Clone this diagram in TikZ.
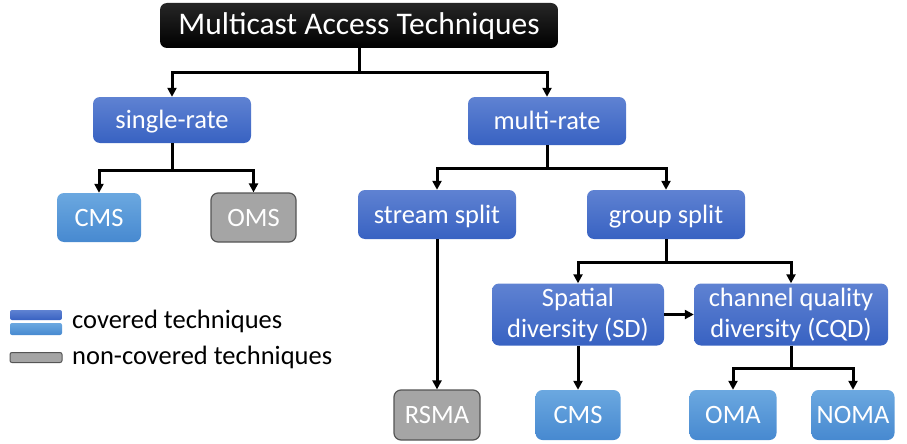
\documentclass[tikz,border=0pt]{standalone}
\usepackage{fontspec}
\setmainfont{Carlito}
\usetikzlibrary{arrows.meta,calc}
\definecolor{dbtop}{HTML}{5F82D2}
\definecolor{dbbot}{HTML}{3862C2}
\definecolor{lbtop}{HTML}{6BA8E0}
\definecolor{lbbot}{HTML}{4789D0}
\definecolor{gfill}{HTML}{A5A5A5}
\definecolor{gline}{HTML}{555555}
\tikzset{
  base/.style={rounded corners=7pt, align=center, text=white, inner sep=0pt,
    font=\fontsize{26.5}{31}\selectfont},
  sl/.style={text height=19pt, text depth=2pt},
  dbox/.style={base, top color=dbtop, bottom color=dbbot, draw=none},
  lbox/.style={base, top color=lbtop, bottom color=lbbot, draw=none},
  gbox/.style={base, fill=gfill, draw=gline, line width=1.2pt},
  tbox/.style={base, top color=black!85, bottom color=black, draw=none,
    font=\fontsize{31.5}{34}\selectfont, text height=22pt, text depth=3pt},
  conn/.style={line width=3pt, draw=black},
  arr/.style={conn, -{Triangle[length=9pt,width=9pt]}},
  legtext/.style={anchor=west, inner sep=0pt, font=\fontsize{26.5}{30}\selectfont}
}
\begin{document}
\begin{tikzpicture}[x=1pt,y=-1pt]
\useasboundingbox (0,0) rectangle (907,444);
% nodes
\node[tbox, minimum width=398pt, minimum height=45pt] (title) at (359,25.5) {Multicast Access Techniques};
\node[dbox, sl, minimum width=158pt, minimum height=46pt] (single) at (172,120) {single-rate};
\node[dbox, sl, minimum width=158pt, minimum height=48pt] (multi) at (547,121) {multi-rate};
\node[lbox, sl, minimum width=84pt, minimum height=49pt] (cmsa) at (99,217.5) {CMS};
\node[gbox, sl, minimum width=85pt, minimum height=49pt] (oms) at (253.5,217.5) {OMS};
\node[dbox, sl, minimum width=158pt, minimum height=49pt] (stream) at (437,214.5) {stream split};
\node[dbox, sl, minimum width=158pt, minimum height=49pt] (group) at (666,214.5) {group split};
\node[dbox, minimum width=172pt, minimum height=62pt] (sd) at (578,314.5) {Spatial\\diversity (SD)};
\node[dbox, minimum width=194pt, minimum height=62pt] (cqd) at (791,314.5) {channel quality\\diversity (CQD)};
\node[gbox, sl, minimum width=86pt, minimum height=50pt] (rsma) at (437,415) {RSMA};
\node[lbox, sl, minimum width=85pt, minimum height=50pt] (cmsb) at (578,415) {CMS};
\node[lbox, sl, minimum width=87pt, minimum height=50pt] (oma) at (733,415) {OMA};
\node[lbox, sl, minimum width=83pt, minimum height=50pt] (noma) at (853,415) {NOMA};
% junctions
\coordinate (j1) at (359,72);
\coordinate (j2) at (172,170);
\coordinate (j3) at (547,168);
\coordinate (j4) at (666,262);
\coordinate (j5) at (791,368);
% connectors
\draw[conn] (title.south) -- (j1);
\draw[arr] (j1) -| (single.north);
\draw[arr] (j1) -| (multi.north);
\draw[conn] (single.south) -- (j2);
\draw[arr] (j2) -| (cmsa.north);
\draw[arr] (j2) -| (oms.north);
\draw[conn] (multi.south) -- (j3);
\draw[arr] (j3) -| (stream.north);
\draw[arr] (j3) -| (group.north);
\draw[conn] (group.south) -- (j4);
\draw[arr] (j4) -| (sd.north);
\draw[arr] (j4) -| (cqd.north);
\draw[arr] (stream.south) -- (rsma.north);
\draw[arr] (sd.south) -- (cmsb.north);
\draw[arr] (sd.east) -- (cqd.west);
\draw[conn] (cqd.south) -- (j5);
\draw[arr] (j5) -| (oma.north);
\draw[arr] (j5) -| (noma.north);
% legend
\node[rounded corners=2pt, top color=dbtop, bottom color=dbbot, minimum width=52pt, minimum height=10pt, inner sep=0pt] (lg1) at (36,315) {};
\node[rounded corners=2pt, top color=lbtop, bottom color=lbbot, minimum width=52pt, minimum height=12pt, inner sep=0pt] (lg2) at (36,329) {};
\node[rounded corners=2pt, fill=gfill, draw=gline, line width=1pt, minimum width=52pt, minimum height=10pt, inner sep=0pt] (lg3) at (36,357.5) {};
\node[legtext] (lt1) at (72,321) {covered techniques};
\node[legtext] (lt2) at (72,357) {non-covered techniques};
\end{tikzpicture}
\end{document}
